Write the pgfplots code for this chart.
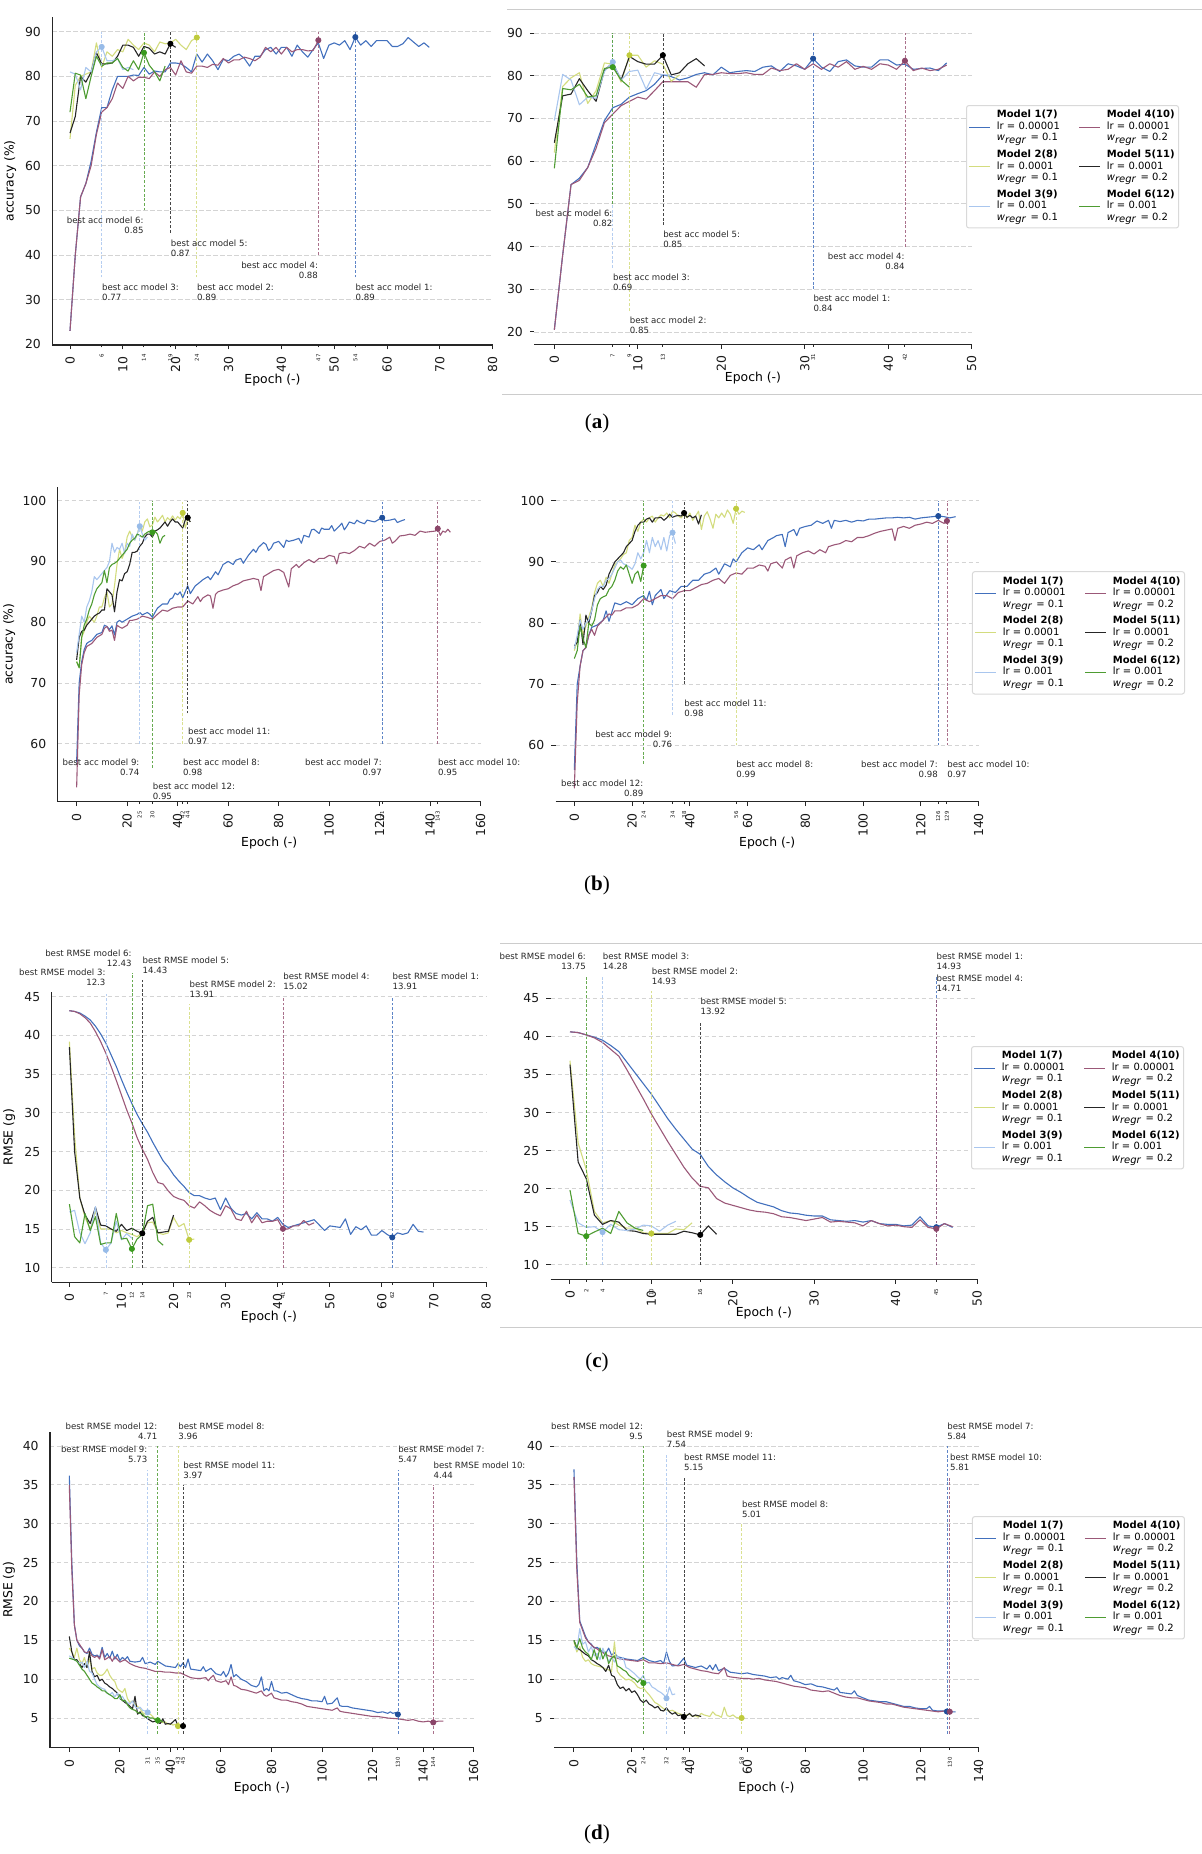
\documentclass[border=0pt]{standalone}
\usepackage{fontspec}
\setmainfont{DejaVu Sans}
\newfontfamily\capfont{Liberation Serif}
\usepackage{pgfplots}
\pgfplotsset{compat=1.18}

% model colours (line / best-epoch marker)
\definecolor{cA}{HTML}{4270BD}\definecolor{cAm}{HTML}{1F4E9A}
\definecolor{cB}{HTML}{D3DC7E}\definecolor{cBm}{HTML}{BFCB3C}
\definecolor{cC}{HTML}{A9C6EE}\definecolor{cCm}{HTML}{97BBE8}
\definecolor{cD}{HTML}{9B5878}\definecolor{cDm}{HTML}{8B4569}
\definecolor{cE}{HTML}{262626}\definecolor{cEm}{HTML}{000000}
\definecolor{cF}{HTML}{4E9C32}\definecolor{cFm}{HTML}{3A9A1E}

\newcommand\tickfont{\fontsize{6.2}{7}\selectfont}
\newcommand\annfont{\fontsize{4.3}{5}\selectfont}
\newcommand\xsfont{\fontsize{2.7}{3}\selectfont}
\newcommand\legfont{\fontsize{5}{5.75}\selectfont}
\tikzset{annot/.style={font=\annfont, inner sep=0pt, text=black!85}}
\newcommand\annL[3]{\node[annot, anchor=north west, align=left] at (axis cs:#1,#2) {#3};}
\newcommand\annR[3]{\node[annot, anchor=north east, align=right] at (axis cs:#1,#2) {#3};}
\newcommand\wreg[1]{\textit{w}\textsubscript{\textit{regr}} = #1}

\pgfplotsset{
  panel/.style={scale only axis, clip=false, anchor=south west,
    axis x line*=bottom, axis y line*=left,
    axis line style={-, line width=0.6pt, black!85},
    tick align=outside, major tick length=2.2pt,
    every tick/.append style={line width=0.5pt, black!85},
    ymajorgrids, grid style={dash pattern=on 2.2pt off 1.3pt, black!17, line width=0.4pt},
    tick label style={font=\tickfont, text=black!90},
    label style={font=\tickfont},
    xticklabel style={rotate=90, anchor=east},
    extra x tick style={major tick length=1.2pt, xticklabel style={font=\xsfont}},
    /pgf/number format/assume math mode=true,
    xlabel={Epoch (-)},
    xlabel style={at={(axis description cs:0.5,0)}, anchor=center}},
  lpanel/.style={panel, ytick style={draw=none},
    ylabel style={at={(axis description cs:#1,0.5)}, anchor=south}},
  rpanel/.style={panel, y axis line style={draw=none},
    legend columns=2, legend cell align=left,
    legend image code/.code={\draw[##1, line width=0.6pt] (0pt,0pt) -- (10.3pt,0pt);},
    legend style={at={(axis description cs:#1)}, anchor=north west, font=\legfont,
      draw=black!15, line width=0.5pt, rounded corners=1.2pt, fill=white,
      inner xsep=1pt, inner ysep=0.9pt, cells={align=left},
      nodes={inner xsep=1pt, inner ysep=1.5pt},
      /tikz/every odd column/.append style={column sep=2.3pt},
      /tikz/every even column/.append style={column sep=8.3pt}}},
  l1/.style={cA, line width=0.55pt, line join=round},
  l2/.style={cB, line width=0.55pt, line join=round},
  l3/.style={cC, line width=0.55pt, line join=round},
  l4/.style={cD, line width=0.55pt, line join=round},
  l5/.style={cE, line width=0.55pt, line join=round},
  l6/.style={cF, line width=0.55pt, line join=round},
  vl/.style={dash pattern=on 1.4pt off 0.9pt, line width=0.32pt, opacity=0.85, forget plot},
  mk/.style={only marks, mark=*, mark size=1.3pt, forget plot},
}

\begin{document}
\begin{tikzpicture}
\useasboundingbox (0,0) rectangle (601pt,-927pt);

% separators of the cropped right-hand figures
\draw[black!20, line width=0.5pt] (253.5pt,-4.65pt) -- (601pt,-4.65pt);
\draw[black!20, line width=0.5pt] (251pt,-197.15pt) -- (601pt,-197.15pt);
\draw[black!20, line width=0.5pt] (250pt,-471.65pt) -- (601pt,-471.65pt);
\draw[black!20, line width=0.5pt] (250pt,-663.65pt) -- (601pt,-663.65pt);

%================ (a) left ================
\begin{axis}[lpanel=-0.066, at={(26.15pt,-172.5pt)}, width=220.2pt, height=164.15pt,
  xmin=-3.35, xmax=80, ymin=19.84, ymax=93.36,
  xtick={0,10,...,80}, ytick={20,30,...,90},
  extra x ticks={6,14,19,24,47,54}, ylabel={accuracy (\%)},
  xlabel style={yshift=-17.5pt}]
\addplot[l1] coordinates {(0,23)(1,40)(2,53)(3,56)(4,61)(5,67.5)(6,73)(7,73)(8,77)(9,80)(10,80)(11,80)(12,80.3)(13,80.2)(14,82)(15,80.5)(16,81.2)(17,81)(18,81)(19,83)(20,83)(21,82.8)(22,82)(23,81)(24,85)(25,83.2)(26,85)(27,83.5)(28,81.5)(29,83.8)(30,83.5)(31,84.5)(32,85)(33,84)(34,82.3)(35,84.5)(36,84.5)(37,86)(38,86.5)(39,85)(40,86.5)(41,86.5)(42,84.5)(43,87)(44,85.5)(45,84.3)(46,86)(47,87.5)(48,84)(49,87)(50,87.5)(51,87)(52,88)(53,86)(54,88.8)(55,87)(56,88)(57,86.7)(58,88)(59,88)(60,88)(61,86.7)(62,86.7)(63,87.3)(64,88.7)(65,87.7)(66,86.7)(67,87.5)(68,86.5)};
\addplot[l4] coordinates {(0,23)(1,40)(2,53)(3,56)(4,60)(5,67)(6,72)(7,73)(8,75)(9,78.5)(10,77.3)(11,80)(12,79)(13,79.8)(14,79.8)(15,79.5)(16,81)(17,80)(18,81.5)(19,82)(20,80.3)(21,83.5)(22,81)(23,80.7)(24,82.3)(25,82.3)(26,82)(27,82.7)(28,82.5)(29,84)(30,83)(31,83.7)(32,83.7)(33,84.3)(34,84)(35,83.5)(36,84.3)(37,86.5)(38,85.5)(39,86.5)(40,85)(41,86.5)(42,85.5)(43,86)(44,86)(45,85.7)(46,85.8)(47,88)};
\addplot[l2] coordinates {(0,66)(1,78)(2,80)(3,80.5)(4,81)(5,87.5)(6,82)(7,85.5)(8,84.5)(9,86)(10,85.5)(11,88.3)(12,87)(13,86)(14,87.5)(15,87)(16,85.5)(17,87.7)(18,87.3)(19,87.5)(20,88.3)(21,87)(22,86)(23,88)(24,88.7)};
\addplot[l5] coordinates {(0,67.3)(1,71)(2,80)(3,78.7)(4,81)(5,85.3)(6,82.8)(7,82.8)(8,83)(9,84.5)(10,87)(11,87)(12,86.5)(13,84.5)(14,86.7)(15,86.3)(16,85)(17,85.5)(18,85)(19,87.3)(20,86.5)};
\addplot[l3] coordinates {(0,81)(1,80.5)(2,77)(3,82)(4,81)(5,85.5)(6,86.6)(7,83.5)(8,83.5)(9,84)(10,81.5)(11,82)(12,81.5)};
\addplot[l6] coordinates {(0,72)(1,80.7)(2,80.3)(3,75)(4,80)(5,84.5)(6,82.3)(7,83)(8,83)(9,84)(10,82)(11,81.2)(12,83.5)(13,81.5)(14,85.3)(15,82.5)(16,81)(17,79)(18,82.3)};
\addplot[vl,cC] coordinates {(6,35)(6,90)};
\addplot[vl,cF] coordinates {(14,50)(14,90)};
\addplot[vl,cE] coordinates {(19,45)(19,90)};
\addplot[vl,cB] coordinates {(24,35)(24,90)};
\addplot[vl,cD] coordinates {(47,40)(47,90)};
\addplot[vl,cA] coordinates {(54,35)(54,90)};
\addplot[mk,cAm] coordinates {(54,88.8)};
\addplot[mk,cBm] coordinates {(24,88.7)};
\addplot[mk,cCm] coordinates {(6,86.6)};
\addplot[mk,cDm] coordinates {(47,88.1)};
\addplot[mk,cEm] coordinates {(19,87.3)};
\addplot[mk,cFm] coordinates {(14,85.3)};
\annR{14}{48.6}{best acc model 6:\\0.85}
\annL{19}{43.5}{best acc model 5:\\0.87}
\annR{47}{38.5}{best acc model 4:\\0.88}
\annL{6}{33.6}{best acc model 3:\\0.77}
\annL{24}{33.6}{best acc model 2:\\0.89}
\annL{54}{33.6}{best acc model 1:\\0.89}
\end{axis}

%================ (a) right ================
\begin{axis}[rpanel={0.987,0.731}, at={(267.15pt,-172.15pt)}, width=218.7pt, height=163.65pt,
  xmin=-2.4, xmax=50, ymin=17.1, ymax=93.75,
  xtick={0,10,...,50}, ytick={20,30,...,90},
  extra x ticks={7,9,13,31,42}, xlabel style={yshift=-17pt}]
\addplot[l1] coordinates {(0,20.5)(1,38)(2,54.5)(3,56)(4,58.5)(5,64)(6,69.5)(7,72.5)(8,73.3)(9,75)(10,75.8)(11,76.5)(12,78)(13,80.2)(14,79.8)(15,79)(16,79.5)(17,80.3)(18,80.7)(19,80.2)(20,82)(21,80.7)(22,81)(23,81.2)(24,81)(25,82)(26,82.3)(27,81)(28,82.8)(29,82.3)(30,81.5)(31,84)(32,82)(33,81)(34,83.3)(35,83.7)(36,82.3)(37,82)(38,82)(39,83.7)(40,83.7)(41,82.5)(42,82.7)(43,81.5)(44,81.7)(45,81.8)(46,81.2)(47,83)};
\addlegendentry{\textbf{Model 1(7)}\\lr = 0.00001\\\wreg{0.1}}
\addplot[l4] coordinates {(0,20.5)(1,38)(2,54.5)(3,55.5)(4,58.5)(5,63)(6,69)(7,71)(8,73)(9,74)(10,75)(11,74.5)(12,76.5)(13,78.6)(14,78.6)(15,78.6)(16,78.6)(17,77.3)(18,80.3)(19,80.3)(20,80.7)(21,80.5)(22,80.5)(23,80.7)(24,80.3)(25,80.3)(26,81.8)(27,81.2)(28,81.5)(29,82.8)(30,81.5)(31,82.8)(32,81.5)(33,82.8)(34,82)(35,83.3)(36,81.5)(37,82.2)(38,81.5)(39,82.8)(40,82.5)(41,81.5)(42,83.5)(43,81.2)(44,81.8)(45,81.2)(46,81.5)(47,82.5)};
\addlegendentry{\textbf{Model 4(10)}\\lr = 0.00001\\\wreg{0.2}}
\addplot[l2] coordinates {(0,62)(1,77.5)(2,79.5)(3,80.7)(4,73.5)(5,76.5)(6,83)(7,82.7)(8,78.5)(9,84.8)(10,84.8)(11,82)(12,83.5)(13,82.7)(14,78.7)(15,80.2)};
\addlegendentry{\textbf{Model 2(8)}\\lr = 0.0001\\\wreg{0.1}}
\addplot[l5] coordinates {(0,64.3)(1,75.3)(2,75.7)(3,79.3)(4,76.5)(5,74)(6,81.3)(7,83)(8,79)(9,84.5)(10,83.3)(11,82.7)(12,82.7)(13,84.8)(14,80.2)(15,80.7)(16,82.8)(17,84)(18,82.3)};
\addlegendentry{\textbf{Model 5(11)}\\lr = 0.0001\\\wreg{0.2}}
\addplot[l3] coordinates {(0,69.5)(1,80.3)(2,79)(3,73.2)(4,75)(5,74.7)(6,81)(7,83.2)(8,79)(9,81)(10,81.3)(11,76.8)(12,80.7)(13,80.2)(14,80.2)};
\addlegendentry{\textbf{Model 3(9)}\\lr = 0.001\\\wreg{0.1}}
\addplot[l6] coordinates {(0,58.3)(1,77)(2,76.7)(3,78)(4,75)(5,75.3)(6,81.7)(7,82)(8,79)(9,77.3)};
\addlegendentry{\textbf{Model 6(12)}\\lr = 0.001\\\wreg{0.2}}
\addplot[vl,cC] coordinates {(7,35)(7,90)};
\addplot[vl,cF] coordinates {(7,50)(7,90)};
\addplot[vl,cB] coordinates {(9,25)(9,90)};
\addplot[vl,cE] coordinates {(13,45)(13,90)};
\addplot[vl,cA] coordinates {(31,30)(31,90)};
\addplot[vl,cD] coordinates {(42,40)(42,90)};
\addplot[mk,cAm] coordinates {(31,84)};
\addplot[mk,cBm] coordinates {(9,84.8)};
\addplot[mk,cCm] coordinates {(7,83.2)};
\addplot[mk,cDm] coordinates {(42,83.5)};
\addplot[mk,cEm] coordinates {(13,84.8)};
\addplot[mk,cFm] coordinates {(7,82)};
\annR{7}{48.7}{best acc model 6:\\0.82}
\annL{13}{43.7}{best acc model 5:\\0.85}
\annR{42}{38.7}{best acc model 4:\\0.84}
\annL{7}{33.7}{best acc model 3:\\0.69}
\annL{31}{28.7}{best acc model 1:\\0.84}
\annL{9}{23.7}{best acc model 2:\\0.85}
\end{axis}

%================ (b) left ================
\begin{axis}[lpanel=-0.084, at={(28.85pt,-400.85pt)}, width=211.5pt, height=157.5pt,
  xmin=-7.5, xmax=160, ymin=50.45, ymax=102.3,
  xtick={0,20,...,160}, ytick={60,70,...,100},
  extra x ticks={25,30,42,44,121,143}, ylabel={accuracy (\%)},
  xlabel style={yshift=-20.5pt}]
\addplot[l1] coordinates {(0,57)(1,70)(2,73.5)(3,75.5)(4,76.5)(5,76.8)(6,77)(8,78)(10,78.3)(11,79.5)(12,79.3)(13,78.8)(14,79.4)(15,77.9)(16,80)(17,80.3)(18,80)(20,80.5)(22,81)(24,81.3)(25,81.6)(26,81.2)(28,81.6)(29,81.3)(30,80.8)(31,81.6)(32,82.3)(34,83)(36,83)(37,83.8)(38,84)(39,84.8)(40,84.5)(41,85)(42,84)(43,85)(44,86)(45,84.7)(47,86)(48,86.3)(50,87)(52,87.5)(53,87)(55,88.3)(56,87.8)(58,89.5)(60,90)(62,89.5)(63,90.2)(65,90.5)(66,89.7)(68,91)(70,92)(71,91.5)(72,92.3)(74,93.1)(75,92.8)(76,91.8)(77,92.2)(78,93)(80,93.3)(82,92.3)(83,93.5)(84,93.3)(86,93.5)(88,93.8)(89,93)(90,94.3)(92,94)(93,95.2)(94,95.3)(96,94.6)(97,95.5)(98,95.3)(100,95.3)(101,95.9)(102,95)(104,95.8)(105,96.3)(106,95.2)(107,95.8)(108,96.5)(110,96.2)(111,96.8)(112,96.5)(114,96.2)(115,96.8)(116,96.7)(118,96.5)(120,97)(121,97.2)(122,96.7)(124,96.8)(126,97)(127,96.4)(128,96.6)(130,96.9)};
\addplot[l4] coordinates {(0,52.8)(1,68)(2,73)(3,75)(4,76)(6,76.5)(8,77.5)(10,78)(11,79)(12,79.3)(13,78.5)(14,78.7)(15,77)(16,79.5)(17,79.2)(18,79)(20,79.5)(21,80.3)(22,80.3)(24,80.5)(26,81)(28,80.8)(30,80.5)(32,81.3)(34,82)(36,81.8)(38,82.3)(40,82.5)(42,82.5)(44,83.5)(46,83)(48,84.2)(49,83.4)(50,84)(52,84.5)(53,84.3)(54,82.3)(55,84.6)(56,85)(58,85.3)(60,85.5)(62,86)(64,86.3)(66,86.8)(68,87)(70,87.2)(72,87)(73,85.2)(74,87.5)(76,88)(78,88.5)(80,88.7)(82,88.2)(84,85.8)(85,88.8)(87,89.5)(88,89)(90,89.8)(92,90.3)(94,89.8)(96,90.5)(98,90.5)(100,91)(102,90.8)(103,89.6)(104,91.3)(106,91.5)(108,91.3)(110,91.8)(112,92.5)(114,92.2)(116,93)(118,92.5)(120,93.3)(122,93.5)(124,94)(125,93)(126,93.3)(128,94.2)(130,94.3)(132,94.5)(134,94.3)(136,95)(138,94.8)(140,94.9)(142,95)(143,95.4)(144,94.3)(145,95)(146,94.8)(147,95.3)(148,94.8)};
\addplot[l2] coordinates {(0,73.5)(1,72.5)(2,77.5)(3,78.5)(4,80)(5,81)(6,80.5)(7,80)(8,81)(9,82.5)(10,82.5)(11,84)(12,85)(13,82.5)(14,83)(15,86)(16,89.5)(17,92)(18,90.5)(19,91.5)(20,94)(21,95)(22,94)(23,93.5)(24,94.5)(25,96)(26,95)(27,96.5)(28,97)(29,95.7)(30,96)(31,97.3)(32,96.5)(33,97)(34,97.6)(35,96.5)(36,97.2)(37,96.8)(38,97.5)(39,96.8)(40,97.4)(41,97)(42,98)(43,95.5)(44,97)(45,96.5)};
\addplot[l5] coordinates {(0,73.8)(1,77.5)(2,78.5)(3,78.7)(4,79.5)(5,80)(6,80.5)(7,81)(8,81.3)(9,81.5)(10,82)(11,82)(12,85.5)(13,85)(14,84.5)(15,81.7)(16,85)(17,87)(18,86.8)(19,88)(20,88.3)(21,89.5)(22,91.5)(23,91.5)(24,91.7)(25,92.5)(26,93)(27,94)(28,94.5)(29,94.5)(30,94)(31,95)(32,95.2)(33,95.5)(34,96)(35,96.5)(36,95.8)(37,96.5)(38,97)(39,96.5)(40,96.5)(41,96)(42,95.5)(43,96.8)(44,97.2)(45,96.5)};
\addplot[l3] coordinates {(0,75)(1,78)(2,81)(3,80)(4,82.5)(5,83.5)(6,85)(7,87.5)(8,87)(9,87.5)(10,88)(11,88.5)(12,89)(13,90)(14,93)(15,91.5)(16,92.3)(17,92)(18,93)(19,91.3)(20,93)(21,92.5)(22,94.5)(23,93.5)(24,94.5)(25,95.8)(26,94.5)(27,93.5)(28,94)};
\addplot[l6] coordinates {(0,73.5)(1,72.5)(2,77.5)(3,79.5)(4,80.5)(5,82)(6,83)(7,84.5)(8,85.5)(9,86)(10,86.5)(11,88.5)(12,86.5)(13,89)(14,89.5)(15,89.7)(16,90)(17,90.5)(18,91)(19,91.5)(20,92)(21,93)(22,93.5)(23,93.8)(24,94.5)(25,94.3)(26,94)(27,94.5)(28,94.8)(29,95)(30,94.8)(31,95)(32,94.5)(33,93)(34,94)(35,94.3)};
\addplot[vl,cC] coordinates {(25,60)(25,100)};
\addplot[vl,cF] coordinates {(30,56)(30,100)};
\addplot[vl,cB] coordinates {(42,60)(42,100)};
\addplot[vl,cE] coordinates {(44,65)(44,100)};
\addplot[vl,cA] coordinates {(121,60)(121,100)};
\addplot[vl,cD] coordinates {(143,60)(143,100)};
\addplot[mk,cAm] coordinates {(121,97.2)};
\addplot[mk,cBm] coordinates {(42,98)};
\addplot[mk,cCm] coordinates {(25,95.8)};
\addplot[mk,cDm] coordinates {(143,95.4)};
\addplot[mk,cEm] coordinates {(44,97.2)};
\addplot[mk,cFm] coordinates {(30,94.8)};
\annL{44}{62.6}{best acc model 11:\\0.97}
\annR{25}{57.6}{best acc model 9:\\0.74}
\annL{42}{57.6}{best acc model 8:\\0.98}
\annR{121}{57.6}{best acc model 7:\\0.97}
\annL{143}{57.6}{best acc model 10:\\0.95}
\annL{30}{53.6}{best acc model 12:\\0.95}
\end{axis}

%================ (b) right ================
\begin{axis}[rpanel={0.984,0.732}, at={(277.85pt,-400.85pt)}, width=211.5pt, height=157.5pt,
  xmin=-6.45, xmax=140, ymin=50.8, ymax=102.3,
  xtick={0,20,...,140}, ytick={60,70,...,100},
  extra x ticks={24,34,38,56,126,129}, xlabel style={yshift=-20.5pt}]
\addplot[l1] coordinates {(0,56)(1,70)(2,73)(3,75.5)(4,76)(5,78)(6,79.3)(8,79.7)(10,80.5)(11,82)(12,80.3)(14,83.3)(16,83)(18,83.5)(20,83)(22,84)(24,84.5)(25,83.7)(26,85.2)(27,83)(28,84.5)(30,85.5)(31,84)(33,85.3)(35,85)(37,86)(39,86)(41,87)(43,87)(45,88)(47,88.3)(49,89)(50,88)(52,89.7)(54,89.2)(55,90.5)(56,90)(58,91.5)(60,92.3)(62,92)(64,92.8)(65,92)(67,93.5)(69,94)(70,94.3)(72,94.5)(73,92.5)(74,94.8)(76,95.3)(77,94.3)(78,95.5)(80,95.8)(82,96)(84,96.7)(86,96.3)(88,96.8)(89,95.5)(90,96.8)(92,96.6)(94,96.8)(96,96.5)(98,96.8)(100,96.7)(102,97)(104,97)(106,97.1)(108,97.2)(110,97.2)(112,97.3)(114,97.2)(116,97.3)(118,97)(120,97.2)(122,97.3)(124,97.4)(126,97.5)(128,97.4)(130,97.2)(132,97.4)};
\addlegendentry{\textbf{Model 1(7)}\\lr = 0.00001\\\wreg{0.1}}
\addplot[l4] coordinates {(0,53)(1,67)(2,73)(3,75.5)(4,76)(5,78)(6,79)(7,78)(8,79.5)(10,80.5)(12,81.5)(13,81.3)(14,82)(16,82)(18,82.5)(20,82.5)(22,83)(24,84)(26,83.5)(28,84)(30,84.5)(32,84.5)(34,84)(36,85)(38,85.3)(40,85.3)(42,85.8)(44,86.3)(46,86.5)(48,87)(50,87.3)(52,86.5)(54,87.8)(56,88.2)(58,88)(60,89)(62,89)(64,89.5)(66,89.3)(67,88.5)(68,89.7)(70,90)(72,89)(73,90.3)(75,90.8)(76,89)(77,91)(79,91.5)(81,91.8)(83,91.3)(85,92)(87,91.5)(88,92.5)(90,92.8)(92,93)(94,93.5)(96,93.3)(98,94)(100,94)(102,94.3)(104,94.7)(106,95)(108,95.2)(110,95.4)(111,93.5)(112,95.5)(114,95.8)(116,95.5)(118,96)(120,96.2)(122,96.5)(124,96.3)(126,96.8)(128,96.3)(129,96.7)};
\addlegendentry{\textbf{Model 4(10)}\\lr = 0.00001\\\wreg{0.2}}
\addplot[l2] coordinates {(0,75.5)(1,77)(2,81.5)(3,78)(4,79.5)(5,81)(6,82.5)(7,85)(8,86.5)(9,87)(10,86)(11,87.5)(12,86.5)(13,88)(14,89.5)(15,90)(16,90.5)(17,91.2)(18,91.5)(19,93.5)(20,94)(21,96)(22,95)(23,96.5)(24,97)(25,96.5)(26,97.2)(27,97.5)(28,96.5)(29,97.2)(30,97.7)(31,97.5)(32,98)(33,97.2)(34,98.3)(35,98)(36,97.5)(37,97.2)(38,97.8)(39,97.2)(40,98)(41,96.8)(42,97.5)(43,98.3)(44,95.3)(45,97.5)(46,98.2)(47,97)(48,95.5)(49,97.8)(50,97.2)(51,98)(52,97.3)(53,98.5)(54,97.8)(55,96.3)(56,98.7)(57,97.8)(58,98.3)(59,98.1)};
\addlegendentry{\textbf{Model 2(8)}\\lr = 0.0001\\\wreg{0.1}}
\addplot[l5] coordinates {(0,76.3)(1,76.8)(2,80.5)(3,76.5)(4,81.3)(5,80)(6,82)(7,84.5)(8,85)(9,86)(10,85.5)(11,86.2)(12,88)(13,89)(14,90)(15,90.5)(16,91)(17,91.5)(18,92.5)(19,93)(20,93.5)(21,95)(22,96)(23,96.5)(24,96.5)(25,97)(26,97.2)(27,96.5)(28,97.2)(29,97.2)(30,97.3)(31,96.8)(32,97.2)(33,97.8)(34,97.3)(35,97.5)(36,97.6)(37,97.5)(38,98)(39,97.3)(40,97.6)(41,97.2)(42,97.5)(43,96.2)(44,97.7)};
\addlegendentry{\textbf{Model 5(11)}\\lr = 0.0001\\\wreg{0.2}}
\addplot[l3] coordinates {(0,75.8)(1,78)(2,80.5)(3,79)(4,80)(5,80.5)(6,82)(7,84)(8,85.5)(9,86)(10,86)(11,87)(12,87.3)(13,88)(14,89)(15,90)(16,90.3)(17,89.7)(18,89.5)(19,89.2)(20,88.8)(21,89.7)(22,91.5)(23,90.5)(24,91.5)(25,93.5)(26,91.5)(27,94)(28,92.5)(29,93.5)(30,92)(31,94)(32,91.8)(33,94.3)(34,94.8)(35,93)};
\addlegendentry{\textbf{Model 3(9)}\\lr = 0.001\\\wreg{0.1}}
\addplot[l6] coordinates {(0,74.2)(1,75.5)(2,79.5)(3,77.5)(4,76)(5,80)(6,79.5)(7,80.5)(8,83)(9,84)(10,84.3)(11,84.5)(12,85.5)(13,86)(14,87)(15,88.5)(16,89.2)(17,88.8)(18,89.5)(19,88)(20,86.5)(21,88)(22,88.5)(23,86.8)(24,89.4)};
\addlegendentry{\textbf{Model 6(12)}\\lr = 0.001\\\wreg{0.2}}
\addplot[vl,cF] coordinates {(24,57)(24,100)};
\addplot[vl,cC] coordinates {(34,65)(34,100)};
\addplot[vl,cE] coordinates {(38,70)(38,100)};
\addplot[vl,cB] coordinates {(56,60)(56,100)};
\addplot[vl,cA] coordinates {(126,60)(126,100)};
\addplot[vl,cD] coordinates {(129,60)(129,100)};
\addplot[mk,cAm] coordinates {(126,97.5)};
\addplot[mk,cBm] coordinates {(56,98.7)};
\addplot[mk,cCm] coordinates {(34,94.8)};
\addplot[mk,cDm] coordinates {(129,96.7)};
\addplot[mk,cEm] coordinates {(38,98)};
\addplot[mk,cFm] coordinates {(24,89.4)};
\annL{38}{67.5}{best acc model 11:\\0.98}
\annR{34}{62.5}{best acc model 9:\\0.76}
\annL{56}{57.5}{best acc model 8:\\0.99}
\annR{126}{57.5}{best acc model 7:\\0.98}
\annL{129}{57.5}{best acc model 10:\\0.97}
\annR{24}{54.5}{best acc model 12:\\0.89}
\end{axis}

%================ (c) left ================
\begin{axis}[lpanel=-0.068, at={(25.85pt,-641.15pt)}, width=217.15pt, height=145.3pt,
  xmin=-3.4, xmax=80, ymin=8.11, ymax=45.65,
  xtick={0,10,...,80}, ytick={10,15,...,45},
  extra x ticks={7,12,14,23,41,62}, ylabel={RMSE (g)},
  xlabel style={yshift=-17.2pt}]
\addplot[l1] coordinates {(0,43.2)(1,43.1)(2,42.9)(3,42.5)(4,42)(5,41.2)(6,40.2)(7,39)(8,37.5)(9,36)(10,34.3)(11,32.7)(12,31.2)(13,29.8)(14,28.6)(15,27.5)(16,26.2)(17,25)(18,23.8)(19,23)(20,22)(21,21.2)(22,20.5)(23,19.7)(24,19.3)(25,19.3)(26,19)(27,18.8)(28,19)(29,17.5)(30,19)(31,17.7)(32,17)(33,16.8)(34,17)(35,16.3)(36,17.1)(37,16.3)(38,16.3)(39,16)(40,16.5)(41,15.6)(42,15.2)(43,15.4)(44,15.6)(45,15.8)(46,16)(47,16.2)(48,15.5)(49,14.8)(50,15.4)(51,15.3)(52,15.2)(53,16.3)(54,14.3)(55,15.3)(56,14.9)(57,15.4)(58,14.2)(59,14.2)(60,14.8)(61,14.3)(62,13.9)(63,14.5)(64,14.3)(65,14.5)(66,15.6)(67,14.7)(68,14.6)};
\addplot[l4] coordinates {(0,43.2)(1,43.1)(2,42.8)(3,42.3)(4,41.6)(5,40.5)(6,39.2)(7,37.7)(8,36)(9,34.2)(10,32.3)(11,30.4)(12,28.7)(13,26.8)(14,25.3)(15,24)(16,22.3)(17,21)(18,20.8)(19,19.9)(20,19.2)(21,18.9)(22,18.7)(23,18)(24,17.7)(25,18.5)(26,18)(27,17.4)(28,17)(29,16.7)(30,18)(31,17.6)(32,16.3)(33,16.1)(34,17.3)(35,15.8)(36,16.8)(37,15.8)(38,16)(39,16)(40,16.2)(41,15)(42,15)(43,15.4)(44,15.4)(45,16.1)(46,15.5)(47,15.8)};
\addplot[l2] coordinates {(0,39.2)(1,27)(2,19)(3,16.5)(4,15)(5,17.3)(6,15)(7,15)(8,15)(9,14.5)(10,14.8)(11,14.5)(12,14.3)(13,14)(14,14.5)(15,15.8)(16,15.9)(17,14.5)(18,14.3)(19,14.5)(20,16.5)(21,15.3)(22,15.7)(23,13.6)(24,13.7)};
\addplot[l5] coordinates {(0,38.5)(1,25)(2,19)(3,16.8)(4,15.7)(5,17.8)(6,15.5)(7,15.4)(8,15)(9,14.7)(10,15.6)(11,14.8)(12,15.1)(13,14.7)(14,14.43)(15,16)(16,16.5)(17,14.5)(18,14.6)(19,14.7)(20,16.8)};
\addplot[l3] coordinates {(0,17.2)(1,17.4)(2,14.5)(3,13.1)(4,14.5)(5,17.9)(6,13.2)(7,12.3)(8,13.2)(9,16)(10,13.6)(11,14.4)(12,13.8)};
\addplot[l6] coordinates {(0,18.2)(1,14)(2,13.2)(3,17)(4,14.8)(5,16.6)(6,13)(7,13.2)(8,13.2)(9,17)(10,13.7)(11,13.8)(12,12.43)(13,13.7)(14,14.3)(15,18)(16,18.2)(17,13.5)(18,12.9)};
\addplot[vl,cC] coordinates {(7,10)(7,45.4)};
\addplot[vl,cF] coordinates {(12,10)(12,48.1)};
\addplot[vl,cE] coordinates {(14,10)(14,47.1)};
\addplot[vl,cB] coordinates {(23,10)(23,44.1)};
\addplot[vl,cD] coordinates {(41,10)(41,45)};
\addplot[vl,cA] coordinates {(62,10)(62,45)};
\addplot[mk,cAm] coordinates {(62,13.91)};
\addplot[mk,cBm] coordinates {(23,13.6)};
\addplot[mk,cCm] coordinates {(7,12.3)};
\addplot[mk,cDm] coordinates {(41,15.02)};
\addplot[mk,cEm] coordinates {(14,14.43)};
\addplot[mk,cFm] coordinates {(12,12.43)};
\annR{12}{51.1}{best RMSE model 6:\\12.43}
\annL{14}{50.2}{best RMSE model 5:\\14.43}
\annR{7}{48.6}{best RMSE model 3:\\12.3}
\annL{41}{48.1}{best RMSE model 4:\\15.02}
\annL{62}{48.1}{best RMSE model 1:\\13.91}
\annL{23}{47.15}{best RMSE model 2:\\13.91}
\end{axis}

%================ (c) right ================
\begin{axis}[rpanel={0.986,0.811}, at={(275.35pt,-639.65pt)}, width=213.15pt, height=143.8pt,
  xmin=-2.37, xmax=50, ymin=8.08, ymax=45.87,
  xtick={0,10,...,50}, ytick={10,15,...,45},
  extra x ticks={2,4,10,16,45}, xlabel style={yshift=-16.7pt}]
\addplot[l1] coordinates {(0,40.6)(1,40.5)(2,40.2)(3,39.9)(4,39.5)(5,38.8)(6,38)(7,36.6)(8,35.2)(9,33.8)(10,32.4)(11,30.8)(12,29.2)(13,27.8)(14,26.5)(15,25.2)(16,24.5)(17,22.9)(18,21.8)(19,20.9)(20,20.1)(21,19.5)(22,18.8)(23,18.2)(24,17.9)(25,17.6)(26,17.1)(27,16.8)(28,16.7)(29,16.5)(30,16.4)(31,16.4)(32,15.9)(33,15.8)(34,15.7)(35,15.8)(36,15.6)(37,15.8)(38,15.4)(39,15.3)(40,15.3)(41,15.1)(42,15.2)(43,16.3)(44,15.1)(45,14.93)(46,15.4)(47,14.9)};
\addlegendentry{\textbf{Model 1(7)}\\lr = 0.00001\\\wreg{0.1}}
\addplot[l4] coordinates {(0,40.6)(1,40.5)(2,40.2)(3,39.8)(4,39.2)(5,38.3)(6,37.4)(7,35.6)(8,33.7)(9,31.8)(10,29.8)(11,28)(12,26.2)(13,24.5)(14,22.8)(15,21.4)(16,20.3)(17,20.1)(18,18.7)(19,18.1)(20,17.8)(21,17.5)(22,17.2)(23,17)(24,16.9)(25,16.7)(26,16.3)(27,16.2)(28,16)(29,15.8)(30,16)(31,16.2)(32,15.6)(33,15.7)(34,15.6)(35,15.5)(36,15.1)(37,15.8)(38,15.4)(39,15.1)(40,15.2)(41,15)(42,14.9)(43,15.9)(44,14.9)(45,14.71)(46,15.4)(47,15)};
\addlegendentry{\textbf{Model 4(10)}\\lr = 0.00001\\\wreg{0.2}}
\addplot[l2] coordinates {(0,36.8)(1,26)(2,22.5)(3,17)(4,15.5)(5,15.8)(6,15.2)(7,14.8)(8,14.8)(9,14.2)(10,14.1)(11,14.1)(12,14.1)(13,14.7)(14,14.6)(15,15.5)};
\addlegendentry{\textbf{Model 2(8)}\\lr = 0.0001\\\wreg{0.1}}
\addplot[l5] coordinates {(0,36.3)(1,23.5)(2,21.3)(3,16.5)(4,15.3)(5,15.8)(6,15.6)(7,14.5)(8,14.4)(9,14.1)(10,14)(11,14)(12,14)(13,14)(14,14.4)(15,14.2)(16,13.92)(17,15.1)(18,14)};
\addlegendentry{\textbf{Model 5(11)}\\lr = 0.0001\\\wreg{0.2}}
\addplot[l3] coordinates {(0,18.5)(1,15.5)(2,14.9)(3,15)(4,14.28)(5,15.3)(6,14.6)(7,14.5)(8,14.7)(9,15.2)(10,15.1)(11,14.4)(12,15.2)(13,15.7)};
\addlegendentry{\textbf{Model 3(9)}\\lr = 0.001\\\wreg{0.1}}
\addplot[l6] coordinates {(0,19.8)(1,14.1)(2,13.75)(3,14.3)(4,14.8)(5,14.1)(6,17)(7,15.5)(8,14.8)(9,14.5)};
\addlegendentry{\textbf{Model 6(12)}\\lr = 0.001\\\wreg{0.2}}
\addplot[vl,cF] coordinates {(2,10)(2,48.07)};
\addplot[vl,cC] coordinates {(4,10)(4,48.07)};
\addplot[vl,cB] coordinates {(10,10)(10,46)};
\addplot[vl,cE] coordinates {(16,10)(16,42)};
\addplot[vl,cA] coordinates {(45,10)(45,48.07)};
\addplot[vl,cD] coordinates {(45,10)(45,45)};
\addplot[mk,cAm] coordinates {(45,14.93)};
\addplot[mk,cBm] coordinates {(10,14.1)};
\addplot[mk,cCm] coordinates {(4,14.28)};
\addplot[mk,cDm] coordinates {(45,14.71)};
\addplot[mk,cEm] coordinates {(16,13.92)};
\addplot[mk,cFm] coordinates {(2,13.75)};
\annR{2}{51.05}{best RMSE model 6:\\13.75}
\annL{4}{51.05}{best RMSE model 3:\\14.28}
\annL{10}{49.07}{best RMSE model 2:\\14.93}
\annL{16}{45.1}{best RMSE model 5:\\13.92}
\annL{45}{51.05}{best RMSE model 1:\\14.93}
\annL{45}{48.07}{best RMSE model 4:\\14.71}
\end{axis}

%================ (d) left ================
\begin{axis}[lpanel=-0.066, at={(25pt,-873.85pt)}, width=211.85pt, height=158pt,
  xmin=-7.64, xmax=160, ymin=1.18, ymax=41.84,
  xtick={0,20,...,160}, ytick={5,10,...,40},
  extra x ticks={31,35,43,45,130,144}, ylabel={RMSE (g)},
  xlabel style={yshift=-20.2pt}]
\addplot[l1] coordinates {(0,36.2)(1,25)(2,17)(3,15)(4,14.3)(5,14)(6,13.5)(7,13.3)(8,14)(9,13.2)(10,13)(11,13.1)(12,12.8)(13,14.1)(14,12.8)(15,13.3)(16,12.7)(17,13.6)(18,12.6)(19,13.2)(20,12.4)(21,12.8)(22,12.5)(23,12.9)(24,12.3)(26,12.2)(28,12.3)(29,12.8)(30,12)(32,12.2)(34,11.9)(35,12.3)(36,12.1)(38,11.7)(40,11.6)(42,11.5)(43,12)(44,11.6)(45,12.1)(46,11.5)(47,12.6)(48,11.3)(50,11.2)(52,11.1)(53,11.6)(54,11)(56,11.4)(58,10.7)(60,10.5)(61,11)(62,10.3)(63,10.8)(64,11.9)(65,10.3)(66,10.6)(68,10)(70,9.7)(72,9.2)(74,9)(75,9.3)(76,10.3)(77,8.5)(78,8.8)(79,8.5)(80,9.7)(81,8.5)(82,8.5)(84,8.2)(86,8.3)(88,8)(90,7.7)(92,7.5)(94,7.4)(96,7.2)(98,7.2)(100,7.1)(101,7.8)(102,6.8)(104,6.9)(106,7.6)(107,6.6)(108,6.5)(110,6.5)(112,6.3)(114,6.2)(116,6.1)(118,6)(120,5.9)(122,5.7)(124,5.8)(126,5.6)(127,5.8)(128,5.6)(129,5.7)(130,5.47)};
\addplot[l4] coordinates {(0,35)(1,24)(2,17)(3,15)(4,14.5)(5,14)(6,13.5)(7,13.4)(8,13.6)(9,13)(10,12.8)(11,13)(12,12.6)(13,13.8)(14,12.5)(16,12.9)(17,12.3)(18,12.9)(20,12.2)(22,12.5)(24,12)(26,11.7)(28,11.5)(30,11.4)(32,11.2)(34,11)(36,11)(38,10.9)(40,10.9)(42,10.8)(44,10.8)(46,10.5)(48,10.2)(50,10.1)(52,10.1)(54,10.2)(55,9.8)(56,10.2)(57,10.5)(58,9.8)(60,9.6)(62,9.8)(63,9.3)(64,10.3)(65,9.2)(66,9.1)(68,8.7)(70,8.6)(72,8.4)(74,8.2)(76,8.5)(77,8)(78,7.8)(80,8.2)(81,7.6)(82,7.5)(84,7.3)(86,7.3)(88,7.1)(90,7)(92,6.8)(94,6.5)(96,6.4)(98,6.3)(100,6.2)(102,6.1)(104,6)(106,6.3)(107,5.9)(108,5.8)(110,5.7)(112,5.6)(114,5.5)(116,5.4)(118,5.3)(120,5.2)(122,5.2)(124,5.1)(126,5)(128,4.95)(130,4.9)(132,4.8)(134,4.7)(136,4.8)(138,4.6)(140,4.5)(142,4.6)(144,4.44)(146,4.6)(148,4.6)};
\addplot[l2] coordinates {(0,14)(1,13.5)(2,12.8)(3,14)(4,12.5)(5,12)(6,12.8)(7,11.5)(8,12.6)(9,11.3)(10,11.5)(11,10.8)(12,10.5)(13,10.5)(14,10.8)(15,11.3)(16,10.5)(17,10)(18,9.7)(19,8.8)(20,8.5)(21,8.3)(22,8.8)(23,7.5)(24,7)(25,7.2)(26,6.8)(27,6.5)(28,6.2)(29,5.7)(30,5.5)(31,5.6)(32,5.5)(33,5.2)(34,4.8)(35,4.7)(36,4.5)(37,4.4)(38,4.5)(39,4.2)(40,4.3)(41,4.1)(42,4.2)(43,3.96)};
\addplot[l5] coordinates {(0,15.5)(1,13.5)(2,12.5)(3,12.5)(4,12)(5,11.5)(6,12)(7,11.5)(8,13.5)(9,11)(10,10.3)(11,10.5)(12,9.8)(13,10)(14,9.5)(15,9.3)(16,9)(17,8.8)(18,8.5)(19,8.2)(20,7.5)(21,7.3)(22,7)(23,6.8)(24,6.5)(25,6.2)(26,7.8)(27,5.5)(28,5.8)(29,5.3)(30,5.2)(31,4.9)(32,4.7)(33,4.5)(34,4.6)(35,4.4)(36,4.3)(37,4.9)(38,4.2)(39,4.3)(40,4.2)(41,4.5)(42,4.8)(43,4)(44,4.1)(45,3.97)};
\addplot[l3] coordinates {(0,13)(1,12.8)(2,12.5)(3,12.3)(4,12)(5,12.2)(6,11.5)(7,12.3)(8,11)(9,10.8)(10,10)(11,9.3)(12,9)(13,8.8)(14,8.7)(15,8.2)(16,8)(17,8.3)(18,7.7)(19,8.2)(20,7.5)(21,7.8)(22,7.2)(23,7)(24,6.8)(25,7.2)(26,6.5)(27,6.2)(28,6.4)(29,6)(30,5.9)(31,5.73)(32,5.8)};
\addplot[l6] coordinates {(0,12.7)(1,12.6)(2,12.5)(3,12.3)(4,11.8)(5,11.3)(6,11)(7,10.5)(8,10)(9,9.5)(10,9.3)(11,9)(12,8.8)(13,8.5)(14,8.5)(15,8.2)(16,8)(17,7.8)(18,7.5)(19,7.5)(20,8)(21,7.2)(22,7.3)(23,6.7)(24,6.3)(25,6.1)(26,6)(27,5.7)(28,5.6)(29,5.5)(30,5.1)(31,5.2)(32,5)(33,5)(34,4.8)(35,4.71)(36,4.7)(37,4.5)};
\addplot[vl,cC] coordinates {(31,3)(31,36.9)};
\addplot[vl,cF] coordinates {(35,3)(35,40)};
\addplot[vl,cB] coordinates {(43,3)(43,40)};
\addplot[vl,cE] coordinates {(45,3)(45,35)};
\addplot[vl,cA] coordinates {(130,3)(130,36.9)};
\addplot[vl,cD] coordinates {(144,3)(144,35)};
\addplot[mk,cAm] coordinates {(130,5.47)};
\addplot[mk,cBm] coordinates {(43,3.96)};
\addplot[mk,cCm] coordinates {(31,5.73)};
\addplot[mk,cDm] coordinates {(144,4.44)};
\addplot[mk,cEm] coordinates {(45,3.97)};
\addplot[mk,cFm] coordinates {(35,4.71)};
\annR{35}{43}{best RMSE model 12:\\4.71}
\annL{43}{43}{best RMSE model 8:\\3.96}
\annR{31}{40}{best RMSE model 9:\\5.73}
\annL{130}{40}{best RMSE model 7:\\5.47}
\annL{45}{38}{best RMSE model 11:\\3.97}
\annL{144}{38}{best RMSE model 10:\\4.44}
\end{axis}

%================ (d) right ================
\begin{axis}[rpanel={0.984,0.733}, at={(277.15pt,-873.85pt)}, width=212.2pt, height=158pt,
  xmin=-6.8, xmax=140, ymin=1.18, ymax=41.84,
  xtick={0,20,...,140}, ytick={5,10,...,40},
  extra x ticks={24,32,38,58,130}, xlabel style={yshift=-20.2pt}]
\addplot[l1] coordinates {(0,37)(1,25)(2,17.5)(3,16.5)(4,15.5)(5,14.8)(6,14.5)(7,14)(8,14.1)(9,13.8)(10,13.5)(11,13.3)(12,14)(13,13.1)(14,13.4)(15,12.9)(16,12.8)(18,12.6)(20,12.5)(22,12.4)(24,12.8)(26,12.4)(28,12.2)(30,12.4)(31,12)(32,13.5)(33,12.3)(34,11.7)(36,11.8)(38,12.7)(39,11.8)(40,11.7)(42,11.5)(44,11.7)(46,11.3)(47,11.8)(48,11.2)(49,11.9)(50,11.1)(52,11.4)(54,10.9)(56,10.8)(58,10.7)(60,10.8)(62,10.6)(64,10.5)(66,10.4)(68,10.2)(70,10.3)(71,10)(72,10.2)(74,10)(75,10.5)(76,9.8)(78,9.6)(80,9.3)(82,9.4)(84,9.1)(86,9)(88,8.8)(90,8.6)(91,8.9)(92,8.3)(94,8.2)(96,8.1)(97,8.5)(98,7.9)(100,7.6)(102,7.3)(104,7.2)(106,7.1)(108,7.1)(110,6.9)(112,6.7)(114,6.5)(116,6.5)(118,6.3)(120,6.2)(122,6.2)(123,6.5)(124,6)(126,5.9)(128,5.9)(129,5.84)(130,5.8)(132,5.8)};
\addlegendentry{\textbf{Model 1(7)}\\lr = 0.00001\\\wreg{0.1}}
\addplot[l4] coordinates {(0,36)(1,24)(2,17.3)(3,16.3)(4,15.3)(5,14.8)(6,14.4)(7,14.1)(8,13.9)(9,13.6)(10,13.4)(11,13.2)(12,13)(13,12.9)(14,12.8)(16,12.6)(18,12.5)(20,12.4)(22,12.3)(24,12.5)(26,12.1)(28,12.1)(30,12)(32,12.1)(34,11.9)(36,11.7)(38,11.9)(40,11.5)(42,11.3)(44,11.1)(46,11)(48,10.8)(50,10.7)(52,11.5)(53,10.4)(54,10.3)(56,10.2)(58,10.1)(60,10.1)(62,10)(64,10.1)(66,9.9)(68,9.8)(70,9.7)(72,9.5)(74,9.3)(76,9.1)(78,9)(80,8.9)(82,8.6)(84,8.5)(86,8.4)(88,8.5)(90,8.2)(92,7.9)(94,7.7)(96,7.6)(98,7.6)(100,7.4)(102,7.2)(104,7.1)(106,7)(108,6.8)(110,6.8)(112,6.6)(114,6.4)(116,6.3)(118,6.2)(120,6.1)(122,6)(124,5.9)(126,5.8)(128,5.9)(130,5.81)};
\addlegendentry{\textbf{Model 4(10)}\\lr = 0.00001\\\wreg{0.2}}
\addplot[l2] coordinates {(0,14.8)(1,13.5)(2,14.2)(3,12.8)(4,12.3)(5,12.5)(6,12)(7,11.8)(8,11.7)(9,11.6)(10,11.5)(11,11.3)(12,11.2)(13,11)(14,14.8)(15,11)(16,10.5)(17,10.2)(18,9.9)(19,10)(20,9.8)(21,9.5)(22,9)(23,8.8)(24,8.9)(25,8.4)(26,8)(27,7.5)(28,7)(29,6.8)(30,6.5)(31,6.2)(32,6)(33,5.9)(34,6)(35,5.8)(36,5.6)(37,5.5)(38,5.2)(39,5.4)(40,5.5)(41,5.2)(42,5.3)(43,5.1)(44,5.6)(45,5.4)(46,5.3)(47,5.2)(48,5.8)(49,5.4)(50,5.3)(51,5.1)(52,6.4)(53,5.3)(54,5.2)(55,5.4)(56,5.1)(57,5)(58,5.01)};
\addlegendentry{\textbf{Model 2(8)}\\lr = 0.0001\\\wreg{0.1}}
\addplot[l5] coordinates {(0,15)(1,14)(2,13.8)(3,13.5)(4,13.2)(5,13)(6,12.5)(7,12.3)(8,12)(9,11.8)(10,11.5)(11,11)(12,11.8)(13,10.5)(14,10.3)(15,9.3)(16,8.8)(17,9)(18,8.5)(19,8.8)(20,8.3)(21,8.5)(22,8)(23,7.3)(24,7)(25,7.3)(26,6.8)(27,6.6)(28,6.3)(29,6.5)(30,6)(31,5.9)(32,6.3)(33,5.8)(34,5.5)(35,5.7)(36,5.3)(37,5.4)(38,5.15)(39,5.3)(40,5.6)(41,5.2)(42,5.4)(43,5.3)(44,5.2)};
\addlegendentry{\textbf{Model 5(11)}\\lr = 0.0001\\\wreg{0.2}}
\addplot[l3] coordinates {(0,14.2)(1,13.8)(2,16.5)(3,14.5)(4,14.8)(5,13.5)(6,14.2)(7,13)(8,13.3)(9,12.5)(10,14)(11,13)(12,12.3)(13,12.8)(14,12.2)(15,13)(16,12.5)(17,12.8)(18,11.5)(19,11.3)(20,11)(21,10.7)(22,10.3)(23,10)(24,10.5)(25,9.5)(26,9.6)(27,9)(28,8.8)(29,8.5)(30,8.3)(31,8)(32,7.54)(33,9)(34,8)(35,8.1)};
\addlegendentry{\textbf{Model 3(9)}\\lr = 0.001\\\wreg{0.1}}
\addplot[l6] coordinates {(0,15)(1,14)(2,15.2)(3,14)(4,13.5)(5,13.2)(6,12.5)(7,13.8)(8,12.5)(9,14)(10,12.6)(11,13.5)(12,12)(13,12.7)(14,13)(15,11.7)(16,11.5)(17,11.2)(18,11)(19,10.5)(20,10.2)(21,10)(22,9.6)(23,10)(24,9.5)};
\addlegendentry{\textbf{Model 6(12)}\\lr = 0.001\\\wreg{0.2}}
\addplot[vl,cF] coordinates {(24,3)(24,40)};
\addplot[vl,cC] coordinates {(32,3)(32,39)};
\addplot[vl,cE] coordinates {(38,3)(38,36)};
\addplot[vl,cB] coordinates {(58,3)(58,30)};
\addplot[vl,cA] coordinates {(129,3)(129,40)};
\addplot[vl,cD] coordinates {(130,3)(130,36)};
\addplot[mk,cAm] coordinates {(129,5.84)};
\addplot[mk,cBm] coordinates {(58,5.01)};
\addplot[mk,cCm] coordinates {(32,7.54)};
\addplot[mk,cDm] coordinates {(130,5.81)};
\addplot[mk,cEm] coordinates {(38,5.15)};
\addplot[mk,cFm] coordinates {(24,9.5)};
\annR{24}{43}{best RMSE model 12:\\9.5}
\annL{129}{43}{best RMSE model 7:\\5.84}
\annL{32}{42}{best RMSE model 9:\\7.54}
\annL{38}{39}{best RMSE model 11:\\5.15}
\annL{130}{39}{best RMSE model 10:\\5.81}
\annL{58}{33}{best RMSE model 8:\\5.01}
\end{axis}

% sub-figure captions
\node[font=\capfont\fontsize{10.5}{12}\selectfont] at (298.5pt,-211.5pt) {(\textbf{a})};
\node[font=\capfont\fontsize{10.5}{12}\selectfont] at (298.5pt,-442.5pt) {(\textbf{b})};
\node[font=\capfont\fontsize{10.5}{12}\selectfont] at (298.5pt,-681pt) {(\textbf{c})};
\node[font=\capfont\fontsize{10.5}{12}\selectfont] at (298.5pt,-917pt) {(\textbf{d})};
\end{tikzpicture}
\end{document}
